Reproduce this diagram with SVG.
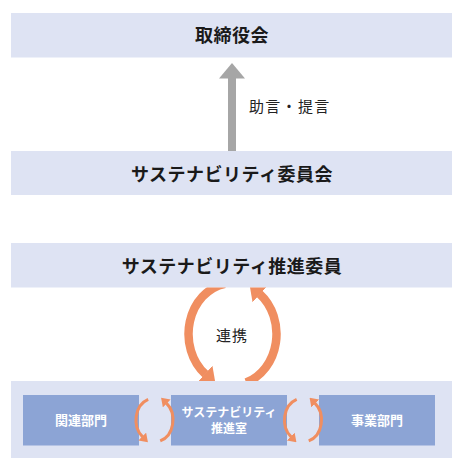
<svg xmlns="http://www.w3.org/2000/svg" width="465" height="469" viewBox="0 0 465 469">
<style>
.band{fill:#dee3f3}
.inner{fill:#8ca4d5}
.title{font-family:"Noto Sans CJK JP","Noto Sans",sans-serif;font-weight:bold;font-size:18px;fill:#1a1a1a;text-anchor:middle;letter-spacing:0.5px}
.lbl{font-family:"Noto Sans CJK JP","Noto Sans",sans-serif;font-size:15px;fill:#222}
.wt{font-family:"Noto Sans CJK JP","Noto Sans",sans-serif;font-weight:bold;fill:#fff;text-anchor:middle}
.big{fill:none;stroke:#f08e60;stroke-width:8.5}
.small{fill:none;stroke:#f08e60;stroke-width:3}
</style>
<defs>
<marker id="hb" viewBox="0 0 14 22" refX="0.5" refY="11" markerWidth="14" markerHeight="22" markerUnits="userSpaceOnUse" orient="auto">
<path d="M0,0 L14,11 L0,22 z" fill="#f08e60"/>
</marker>
<marker id="hs" viewBox="0 0 8 11" refX="0.5" refY="5.5" markerWidth="8" markerHeight="11" markerUnits="userSpaceOnUse" orient="auto">
<path d="M0,0 L8,5.5 L0,11 z" fill="#f08e60"/>
</marker>
<clipPath id="gap"><rect x="0" y="287.5" width="465" height="93.5"/></clipPath>
</defs>

<g id="board">
<rect class="band" x="11" y="13" width="441" height="44.5"/>
<text class="title" x="232" y="41.8">取締役会</text>
</g>
<g id="committee">
<rect class="band" x="11" y="151" width="441" height="44"/>
<text class="title" x="232" y="181.3">サステナビリティ委員会</text>
</g>
<g id="promoters">
<rect class="band" x="11" y="243" width="441" height="44.5"/>
<text class="title" x="232" y="273.3">サステナビリティ推進委員</text>
</g>
<g id="bottom-area">
<rect class="band" x="11" y="381" width="441" height="77"/>
</g>
<g id="related">
<rect class="inner" x="23" y="395" width="116" height="50.5"/>
<text class="wt" x="81" y="425.3" font-size="13">関連部門</text>
</g>
<g id="office">
<rect class="inner" x="171" y="395" width="116" height="50.5"/>
<text class="wt" x="229" y="416.5" font-size="12">サステナビリティ</text>
<text class="wt" x="229" y="433" font-size="12">推進室</text>
</g>
<g id="business">
<rect class="inner" x="319" y="395" width="116" height="50.5"/>
<text class="wt" x="377" y="425.3" font-size="13">事業部門</text>
</g>

<g id="connectors">
<path d="M232,151 V78" stroke="#a6a6a6" stroke-width="8" fill="none"/>
<path d="M219,78.5 L232,63 L245,78.5 z" fill="#a6a6a6"/>
<text class="lbl" x="249" y="111.7" letter-spacing="1.3">助言・提言</text>

<g clip-path="url(#gap)">
<path class="big" d="M224.86,283.8 A44 51 0 0 0 205.41,374.19" marker-end="url(#hb)"/>
<path class="big" d="M246.1,382.5 A44 51 0 0 0 259.59,293.81" marker-end="url(#hb)"/>
</g>
<text class="lbl" x="232" y="341" font-size="16" text-anchor="middle" letter-spacing="1">連携</text>

<path class="small" d="M148.17,399.3 A18.5 22 0 0 0 142.61,436.85" marker-end="url(#hs)"/>
<path class="small" d="M160.22,440.9 A18.5 22 0 0 0 166.39,403.15" marker-end="url(#hs)"/>
<path class="small" d="M296.67,399.3 A18.5 22 0 0 0 291.11,436.85" marker-end="url(#hs)"/>
<path class="small" d="M308.72,440.9 A18.5 22 0 0 0 314.89,403.15" marker-end="url(#hs)"/>
</g>
</svg>
